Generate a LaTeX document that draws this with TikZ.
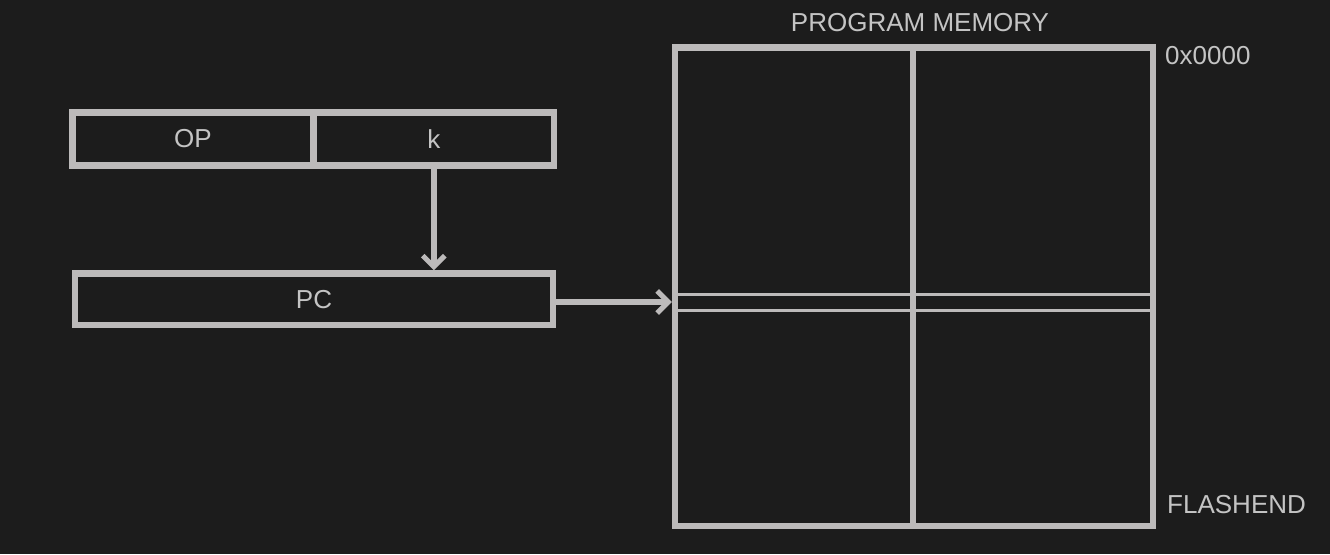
\documentclass[tikz,border=0pt]{standalone}
\usepackage{fontspec}
\setmainfont{Liberation Sans}
\usetikzlibrary{arrows.meta}
\definecolor{bg}{HTML}{1C1C1C}
\definecolor{ln}{HTML}{BCBABA}
\definecolor{tx}{HTML}{C4C4C4}
\begin{document}
\begin{tikzpicture}[x=1pt,y=-1pt,
  box/.style={draw=ln,line width=6.5pt,inner sep=0pt,outer sep=0pt,anchor=north west,text=tx,font=\fontsize{26}{30}\selectfont},
  lbl/.style={text=tx,inner sep=0pt,font=\fontsize{26}{30}\selectfont},
  conn/.style={draw=ln,line width=6.5pt,-{Straight Barb[length=11pt,width=22pt,line width=5pt]}}]
\fill[bg] (0,0) rectangle (1330,554);
\useasboundingbox (0,0) rectangle (1330,554);
% instruction word
\node[box,minimum width=241pt,minimum height=53pt] (op) at (72.5,112.5) {OP};
\node[box,minimum width=240.5pt,minimum height=53pt] (k) at (313.5,112.5) {k};
% program counter
\node[box,minimum width=478pt,minimum height=51.5pt] (pc) at (75,273.5) {PC};
% program memory
\node[box,minimum width=478pt,minimum height=478.5pt] (mem) at (675,47.5) {};
\coordinate (divtop) at (913,47.5);
\coordinate (divbot) at (913,526);
\node[draw=ln,line width=3pt,inner sep=0pt,outer sep=0pt,anchor=north west,minimum width=478pt,minimum height=16pt] (row) at (675,294) {};
\draw[ln,line width=6.5pt] (divtop) -- (divbot);
\node[lbl] (title) at (920,23) {PROGRAM MEMORY};
\node[lbl,anchor=west] (top) at (1165,56) {0x0000};
\node[lbl,anchor=west] (end) at (1167,505) {FLASHEND};
% connectors
\draw[conn] (k.south) -- ([yshift=3.25pt]pc.north -| k.south);
\draw[conn] (pc.east |- 0,302) -- ([xshift=-3.25pt]mem.west |- 0,302);
\end{tikzpicture}
\end{document}
